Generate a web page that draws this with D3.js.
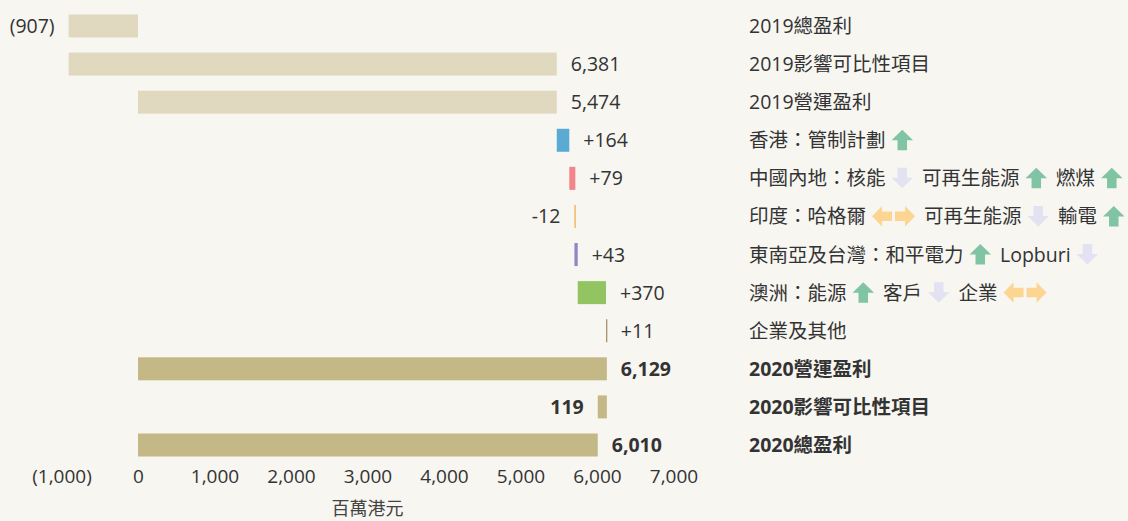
<!DOCTYPE html>
<html>
<head>
<meta charset="utf-8">
<script src="https://cdn.jsdelivr.net/npm/d3@7"></script>
<style>
  html, body { margin: 0; padding: 0; background: #f7f6f1; }
  svg { display: block; font-family: "Open Sans", "Noto Sans CJK TC", sans-serif; }
</style>
</head>
<body>
<div id="chart"></div>
<script>
// chart data
const categories = [
    '2019總盈利', '2019影響可比性項目', '2019營運盈利',
    '香港', '中國內地', '印度', '東南亞及台灣', '澳洲', '企業及其他',
    '2020營運盈利', '2020影響可比性項目', '2020總盈利'
];
const values = [-907, 6381, 5474, 164, 79, -12, 43, 370, 11, 6129, 119, 6010];
// total = from zero, bridge = between the neighbouring totals, delta = running change
const kinds = ['total', 'bridge', 'total', 'delta', 'delta', 'delta', 'delta', 'delta', 'delta', 'total', 'bridge', 'total'];
const barColors = ['#e0d9c0', '#e0d9c0', '#e0d9c0', '#5aaad3', '#f0858b', '#f1b04f', '#9188c3', '#93c462', '#a89272', '#c4b986', '#c4b986', '#c4b986'];
const boldRows = [9, 10, 11];
const tickValues = [-1000, 0, 1000, 2000, 3000, 4000, 5000, 6000, 7000];
const axisTitle = '百萬港元';

// right-hand notes; 'up' / 'down' / 'flat' are arrow markers
const notes = [
    ['2019總盈利'],
    ['2019影響可比性項目'],
    ['2019營運盈利'],
    ['香港：管制計劃', 'up'],
    ['中國內地：核能', 'down', '可再生能源', 'up', '燃煤', 'up'],
    ['印度：哈格爾', 'flat', '可再生能源', 'down', '輸電', 'up'],
    ['東南亞及台灣：和平電力', 'up', 'Lopburi', 'down'],
    ['澳洲：能源', 'up', '客戶', 'down', '企業', 'flat'],
    ['企業及其他'],
    ['2020營運盈利'],
    ['2020影響可比性項目'],
    ['2020總盈利']
];

function buildBars() {
    const bars = [];
    let running = 0;
    values.forEach((v, i) => {
        let start, end, labelLeft = false;
        if (kinds[i] === 'total') {
            start = 0; end = v; running = v;
            labelLeft = v < 0;
        } else if (kinds[i] === 'delta') {
            start = running; end = running + v; running = end;
            labelLeft = v < 0;
        } else {
            // bridge spans the previous total and the next total
            const a = values[i - 1], b = values[i + 1];
            start = Math.min(a, b); end = Math.max(a, b);
            labelLeft = b < a;
        }
        let label;
        if (kinds[i] === 'delta') label = (v > 0 ? '+' : '') + v;
        else if (v < 0) label = '(' + d3.format(',')(-v) + ')';
        else label = d3.format(',')(v);
        bars.push({ i, start, end, label, labelLeft, color: barColors[i], bold: boldRows.includes(i) });
    });
    return bars;
}

function renderChart() {
    const width = 1128, height = 521;
    const fs = 19.5;
    const svg = d3.select('#chart').append('svg')
        .attr('width', width)
        .attr('height', height);

    const x = d3.scaleLinear().domain([-1000, 7000]).range([61.5, 673.5]);
    const y = d3.scalePoint().domain(d3.range(categories.length)).range([26, 445]);
    const barH = 23;

    const bars = buildBars();

    svg.selectAll('rect.bar')
        .data(bars)
        .enter()
        .append('rect')
        .attr('class', 'bar')
        .attr('x', d => x(Math.min(d.start, d.end)))
        .attr('y', d => y(d.i) - barH / 2)
        .attr('width', d => Math.max(1.3, Math.abs(x(d.end) - x(d.start))))
        .attr('height', barH)
        .attr('fill', d => d.color);

    svg.selectAll('text.val')
        .data(bars)
        .enter()
        .append('text')
        .attr('class', 'val')
        .attr('x', d => d.labelLeft ? x(Math.min(d.start, d.end)) - 14 : x(Math.max(d.start, d.end)) + 14)
        .attr('y', d => y(d.i) + 7)
        .attr('text-anchor', d => d.labelLeft ? 'end' : 'start')
        .attr('font-size', fs)
        .attr('font-weight', d => d.bold ? 700 : 400)
        .attr('fill', '#333')
        .text(d => d.label);

    // x axis, labels only
    const axis = svg.append('g')
        .attr('transform', `translate(0, 469)`)
        .call(d3.axisBottom(x)
            .tickValues(tickValues)
            .tickSize(0)
            .tickPadding(0)
            .tickFormat(v => v < 0 ? '(' + d3.format(',')(-v) + ')' : d3.format(',')(v)));
    axis.select('.domain').remove();
    axis.selectAll('text')
        .attr('font-size', 19)
        .attr('font-family', '"Open Sans", "Noto Sans CJK TC", sans-serif')
        .attr('fill', '#333')
        .attr('dy', '0.71em');

    svg.append('text')
        .attr('x', x(3000))
        .attr('y', 515)
        .attr('text-anchor', 'middle')
        .attr('font-size', 18)
        .attr('fill', '#444')
        .text(axisTitle);

    // notes with arrows
    const arrowColor = { up: '#80c4a3', down: '#e2e2f3', flat: '#fdd592' };
    notes.forEach((row, i) => {
        let cx = 749;
        const cy = y(i);
        const g = svg.append('g');
        row.forEach(tok => {
            if (tok === 'up' || tok === 'down' || tok === 'flat') {
                cx += 6;
                const a = g.append('g').attr('transform', `translate(${cx},${cy - 10.5})`);
                if (tok === 'up') {
                    a.append('path').attr('d', 'M0,10.5 L10.75,0 L21.5,10.5 L15.5,10.5 L15.5,20.5 L6,20.5 L6,10.5 Z').attr('fill', arrowColor.up);
                    cx += 21.5;
                } else if (tok === 'down') {
                    a.append('path').attr('d', 'M0,10 L10.75,20.5 L21.5,10 L15.5,10 L15.5,0 L6,0 L6,10 Z').attr('fill', arrowColor.down);
                    cx += 21.5;
                } else {
                    a.append('path').attr('d', 'M0,10.25 L10,0 L10,5.5 L20,5.5 L20,15 L10,15 L10,20.5 Z').attr('fill', arrowColor.flat);
                    a.append('path').attr('d', 'M43,10.25 L33,0 L33,5.5 L23,5.5 L23,15 L33,15 L33,20.5 Z').attr('fill', arrowColor.flat);
                    cx += 43;
                }
                cx += 9;
            } else {
                const t = g.append('text')
                    .attr('x', cx)
                    .attr('y', cy + 7)
                    .attr('font-size', fs)
                    .attr('font-weight', boldRows.includes(i) ? 700 : 400)
                    .attr('fill', '#333')
                    .text(tok);
                cx += t.node().getComputedTextLength();
            }
        });
    });
}

renderChart();
</script>
</body>
</html>
